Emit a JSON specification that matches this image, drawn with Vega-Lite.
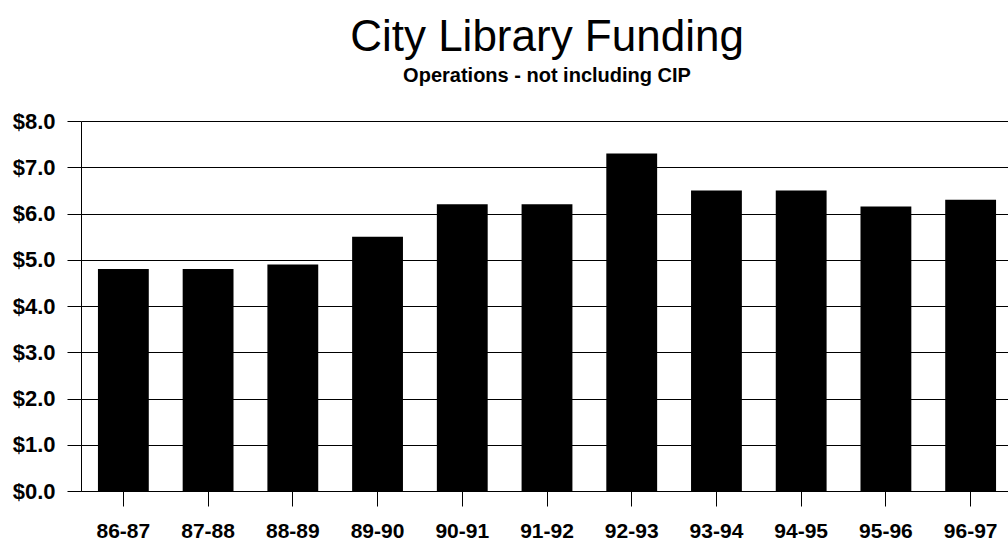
{
  "$schema": "https://vega.github.io/schema/vega-lite/v6.json",
  "autosize": "none",
  "width": 932,
  "height": 370,
  "padding": {"left": 81, "top": 121, "right": 0, "bottom": 51},
  "background": "white",
  "config": {"view": {"stroke": null}, "font": "Liberation Sans"},
  "title": {
    "text": "City Library Funding",
    "subtitle": "Operations - not including CIP",
    "anchor": "middle",
    "font": "Liberation Sans",
    "fontSize": 44,
    "fontWeight": "normal",
    "color": "black",
    "subtitleFont": "Liberation Sans",
    "subtitleFontSize": 20,
    "subtitleFontWeight": "bold",
    "subtitleColor": "black",
    "subtitlePadding": 6,
    "offset": 24
  },
  "data": {
    "values": [
      {"year": "86-87", "funding": 4.8},
      {"year": "87-88", "funding": 4.8},
      {"year": "88-89", "funding": 4.9},
      {"year": "89-90", "funding": 5.5},
      {"year": "90-91", "funding": 6.2},
      {"year": "91-92", "funding": 6.2},
      {"year": "92-93", "funding": 7.3},
      {"year": "93-94", "funding": 6.5},
      {"year": "94-95", "funding": 6.5},
      {"year": "95-96", "funding": 6.15},
      {"year": "96-97", "funding": 6.3}
    ]
  },
  "mark": {"type": "bar", "color": "black"},
  "encoding": {
    "x": {
      "field": "year",
      "type": "ordinal",
      "sort": null,
      "scale": {"paddingInner": 0.4, "paddingOuter": 0.2},
      "axis": {
        "title": null,
        "labelAngle": 0,
        "labelFont": "Liberation Sans",
        "labelFontWeight": "bold",
        "labelFontSize": 21,
        "labelColor": "black",
        "labelPadding": 14,
        "tickSize": 15,
        "tickColor": "black",
        "domainColor": "black",
        "grid": false
      }
    },
    "y": {
      "field": "funding",
      "type": "quantitative",
      "scale": {"domain": [0, 8], "nice": false},
      "axis": {
        "title": null,
        "values": [0, 1, 2, 3, 4, 5, 6, 7, 8],
        "format": "$.1f",
        "labelFont": "Liberation Sans",
        "labelFontWeight": "bold",
        "labelFontSize": 22,
        "labelColor": "black",
        "labelPadding": 12,
        "tickSize": 14,
        "tickColor": "black",
        "domainColor": "black",
        "grid": true,
        "gridColor": "black",
        "gridOpacity": 1,
        "gridWidth": 1
      }
    }
  }
}
